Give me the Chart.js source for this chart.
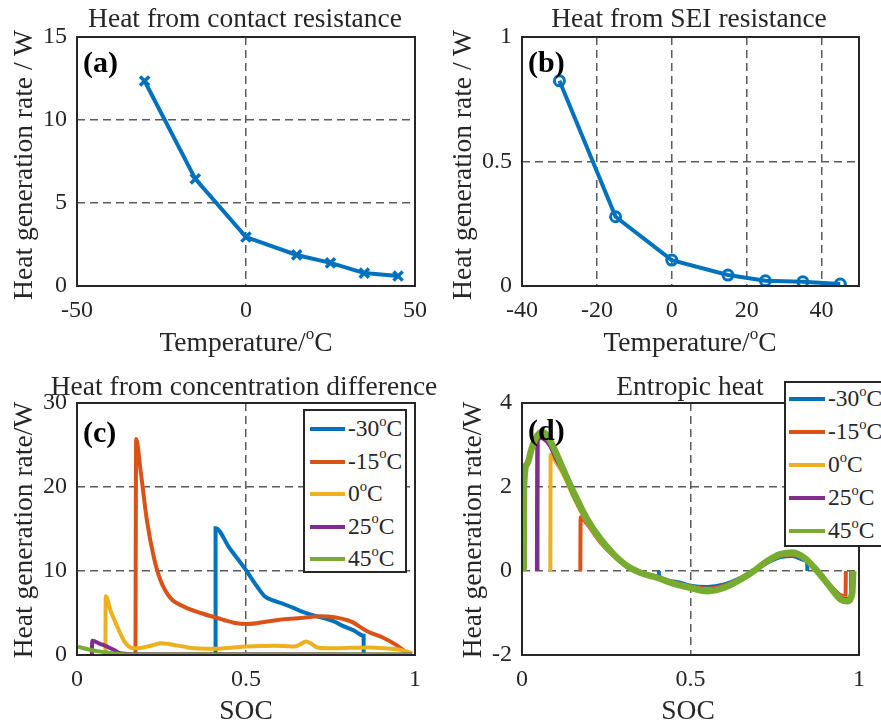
<!DOCTYPE html>
<html>
<head>
<meta charset="utf-8">
<script src="https://cdn.jsdelivr.net/npm/chart.js@4.4.0/dist/chart.umd.min.js"></script>
<style>
body { margin: 0; background: #fff; width: 881px; height: 727px; position: relative; overflow: hidden;
       font-family: "Liberation Serif", "Times New Roman", serif; color: #262626; }
canvas { position: absolute; }
.t { position: absolute; white-space: nowrap; font-size: 27.5px; line-height: 1; transform: translate(-50%, -50%); }
.yl { transform: translate(-50%, -50%) rotate(-90deg); }
.tag { position: absolute; white-space: nowrap; font-weight: bold; font-size: 30px; line-height: 1; color: #000; transform: translate(0, -50%); }
sup { font-size: 0.62em; vertical-align: 0; position: relative; top: -0.7em; }
.leg { position: absolute; border: 2px solid #262626; background: #fff; box-sizing: border-box; }
.row { position: absolute; left: 0; height: 0; }
.row i { position: absolute; height: 4px; margin-top: -2px; }
.row span { position: absolute; white-space: nowrap; font-size: 23.5px; line-height: 1; transform: translate(0, -50%); }
</style>
</head>
<body>
<canvas id="cA" width="440" height="330" style="left:0;top:0"></canvas>
<canvas id="cB" width="441" height="330" style="left:440px;top:0"></canvas>
<canvas id="cC" width="440" height="357" style="left:0;top:370px"></canvas>
<canvas id="cD" width="441" height="357" style="left:440px;top:370px"></canvas>

<div class="t" style="left:245px;top:18px">Heat from contact resistance</div>
<div class="t" style="left:689px;top:18px">Heat from SEI resistance</div>
<div class="t" style="left:244px;top:386px">Heat from concentration difference</div>
<div class="t" style="left:690px;top:386px">Entropic heat</div>

<div class="t yl" style="left:23px;top:165px">Heat generation rate / W</div>
<div class="t yl" style="left:462px;top:165px">Heat generation rate / W</div>
<div class="t yl" style="left:23px;top:530px">Heat generation rate/W</div>
<div class="t yl" style="left:472px;top:530px">Heat generation rate/W</div>

<div class="t" style="left:246px;top:342px">Temperature/<sup>o</sup>C</div>
<div class="t" style="left:690px;top:342px">Temperature/<sup>o</sup>C</div>
<div class="t" style="left:246px;top:710px">SOC</div>
<div class="t" style="left:688px;top:710px">SOC</div>

<div class="tag" style="left:83px;top:62px">(a)</div>
<div class="tag" style="left:528px;top:62px">(b)</div>
<div class="tag" style="left:83px;top:432px">(c)</div>
<div class="tag" style="left:528px;top:430px">(d)</div>

<div class="leg" id="legC" style="left:303px;top:409px;width:104px;height:164px"></div>
<div class="leg" id="legD" style="left:784px;top:381px;width:120px;height:166px"></div>

<script>
// temperatures for panels (a) and (b)
const temps = [-30, -15, 0, 15, 25, 35, 45];
const contactHeat = [12.35, 6.45, 2.95, 1.87, 1.39, 0.78, 0.6];
const seiHeat = [0.824, 0.278, 0.104, 0.044, 0.021, 0.017, 0.008];

// legend / series labels for panels (c) and (d)
const seriesTemps = ['-30', '-15', '0', '25', '45'];
const seriesColors = ['#0072BD', '#D95319', '#EDB120', '#7E2F8E', '#77AC30'];

// tick labels
const xTicksA = [-50, 0, 50];
const yTicksA = [0, 5, 10, 15];
const xTicksB = [-40, -20, 0, 20, 40];
const yTicksB = [0, 0.5, 1];
const socTicks = [0, 0.5, 1];
const yTicksC = [0, 10, 20, 30];
const yTicksD = [-2, 0, 2, 4];

// (c) heat from concentration difference, SOC / W
const concSoc30 = [0.41, 0.41, 0.45, 0.5, 0.53, 0.555, 0.58, 0.61, 0.64, 0.67, 0.70, 0.73, 0.76, 0.79, 0.82, 0.848, 0.848];
const concQ30 = [0, 15.1, 12.8, 10.1, 8.3, 7.0, 6.5, 6.1, 5.6, 5.1, 4.7, 4.4, 4.0, 3.4, 2.9, 2.3, 0];
const concSoc15 = [0.173, 0.175, 0.188, 0.207, 0.227, 0.247, 0.277, 0.316, 0.366, 0.415, 0.464, 0.504, 0.563, 0.613, 0.662, 0.72, 0.761, 0.81, 0.86, 0.909, 0.944, 0.975, 0.985];
const concQ15 = [0, 25.7, 22, 16, 11.7, 8.9, 6.75, 5.76, 5.0, 4.4, 3.85, 3.7, 4.0, 4.25, 4.4, 4.6, 4.5, 4.0, 2.8, 2.0, 1.2, 0.3, 0];
const concSoc0 = [0.084, 0.085, 0.10, 0.119, 0.135, 0.148, 0.168, 0.19, 0.207, 0.227, 0.247, 0.267, 0.287, 0.316, 0.346, 0.38, 0.415, 0.464, 0.5, 0.543, 0.58, 0.613, 0.642, 0.662, 0.677, 0.695, 0.711, 0.74, 0.761, 0.81, 0.86, 0.91, 0.958, 0.993];
const concQ0 = [0, 7.0, 5.2, 3.4, 2.0, 1.2, 0.8, 0.85, 1.0, 1.2, 1.4, 1.35, 1.2, 1.0, 0.8, 0.75, 0.75, 0.9, 1.0, 1.07, 1.1, 1.07, 1.0, 1.3, 1.6, 1.3, 0.9, 0.8, 0.8, 0.85, 0.9, 0.8, 0.6, 0.2];
const concSoc25 = [0.044, 0.045, 0.07, 0.089, 0.11, 0.128, 0.16, 0.3, 0.5, 0.7, 0.9, 0.99];
const concQ25 = [0, 1.7, 1.3, 1.0, 0.6, 0.2, 0.1, 0.1, 0.08, 0.08, 0.07, 0.05];
const concSoc45 = [0.003, 0.02, 0.04, 0.07, 0.1, 0.13, 0.2, 0.4, 0.6, 0.8, 0.99];
const concQ45 = [1.0, 0.8, 0.6, 0.4, 0.25, 0.1, 0.05, 0.05, 0.05, 0.05, 0.05];

// (d) entropic heat, SOC / W
const entSoc30 = [0.406, 0.407, 0.45, 0.5, 0.55, 0.6, 0.649, 0.688, 0.728, 0.767, 0.802, 0.837, 0.846, 0.847];
const entQ30 = [0, -0.13, -0.25, -0.35, -0.38, -0.32, -0.16, 0.01, 0.2, 0.33, 0.36, 0.26, 0.2, 0];
const entSoc15 = [0.173, 0.174, 0.193, 0.233, 0.272, 0.312, 0.351, 0.401, 0.45, 0.5, 0.55, 0.6, 0.649, 0.688, 0.728, 0.767, 0.802, 0.837, 0.876, 0.916, 0.946, 0.960, 0.961];
const entQ15 = [0, 1.28, 1.12, 0.68, 0.36, 0.1, -0.03, -0.14, -0.27, -0.37, -0.42, -0.35, -0.17, 0.01, 0.22, 0.36, 0.39, 0.29, 0, -0.35, -0.58, -0.6, 0];
const entSoc0 = [0.084, 0.085, 0.1, 0.124, 0.153, 0.193, 0.233, 0.272, 0.312, 0.351, 0.401, 0.45, 0.5, 0.55, 0.6, 0.649, 0.688, 0.728, 0.767, 0.802, 0.837, 0.876, 0.916, 0.946, 0.965, 0.977, 0.978];
const entQ0 = [0, 2.77, 2.6, 2.28, 1.76, 1.16, 0.71, 0.37, 0.11, -0.03, -0.15, -0.28, -0.37, -0.44, -0.37, -0.18, 0, 0.22, 0.37, 0.4, 0.3, 0, -0.37, -0.62, -0.66, -0.55, 0];
const entSoc25 = [0.045, 0.046, 0.055, 0.07, 0.084, 0.1, 0.124, 0.153, 0.193, 0.233, 0.272, 0.312, 0.351, 0.401, 0.45, 0.5, 0.55, 0.6, 0.649, 0.688, 0.728, 0.767, 0.802, 0.837, 0.876, 0.916, 0.946, 0.965, 0.977, 0.978];
const entQ25 = [0, 3.1, 3.17, 3.12, 2.98, 2.7, 2.35, 1.82, 1.2, 0.74, 0.39, 0.12, -0.03, -0.15, -0.28, -0.38, -0.46, -0.38, -0.19, 0, 0.23, 0.38, 0.42, 0.31, 0, -0.38, -0.64, -0.68, -0.6, 0];
const entSoc45 = [0.005, 0.006, 0.015, 0.03, 0.045, 0.06, 0.075, 0.09, 0.11, 0.13, 0.153, 0.193, 0.233, 0.272, 0.312, 0.351, 0.401, 0.45, 0.5, 0.55, 0.6, 0.649, 0.688, 0.728, 0.767, 0.802, 0.837, 0.876, 0.916, 0.946, 0.965, 0.98, 0.983];
const entQ45 = [0, 2.0, 2.55, 2.95, 3.22, 3.31, 3.22, 3.0, 2.65, 2.28, 1.88, 1.24, 0.76, 0.4, 0.12, -0.04, -0.16, -0.3, -0.4, -0.48, -0.4, -0.2, 0, 0.24, 0.4, 0.44, 0.32, 0, -0.4, -0.68, -0.72, -0.52, 0];

const FONT = 'Liberation Serif';
const TXT = '#262626';
const GRID = '#5a5a5a';

const pts = (xs, ys) => xs.map((x, i) => ({ x: x, y: ys[i] }));

// axes box like MATLAB "box on"
const framePlugin = {
    id: 'frame',
    afterDraw(chart) {
        const { ctx, chartArea: a } = chart;
        ctx.save();
        ctx.strokeStyle = TXT;
        ctx.lineWidth = 2;
        ctx.strokeRect(a.left, a.top, a.right - a.left, a.bottom - a.top);
        ctx.restore();
    }
};

function axis(min, max, ticks, fit, horizontal) {
    return {
        type: 'linear',
        min: min,
        max: max,
        afterBuildTicks: s => { s.ticks = ticks.map(v => ({ value: v })); },
        afterFit: s => { if (horizontal) s.height = fit; else s.width = fit; },
        grid: {
            drawTicks: false,
            lineWidth: 1.5,
            color: c => (c.tick && (c.tick.value === min || c.tick.value === max)) ? 'rgba(0,0,0,0)' : GRID
        },
        border: { display: false, dash: [8, 5] },
        ticks: {
            padding: 10,
            color: TXT,
            font: { family: FONT, size: 24 },
            callback: v => String(v)
        }
    };
}

function panel(id, datasets, xs, ys, pad, yW, xH) {
    new Chart(document.getElementById(id).getContext('2d'), {
        type: 'line',
        data: { datasets: datasets },
        options: {
            responsive: false,
            animation: false,
            devicePixelRatio: 1,
            layout: { padding: pad },
            plugins: { legend: { display: false }, tooltip: { enabled: false } },
            scales: {
                x: axis(xs[0], xs[1], xs[2], xH, true),
                y: axis(ys[0], ys[1], ys[2], yW, false)
            }
        },
        plugins: [framePlugin]
    });
}

function tempSeries(values, style) {
    return {
        data: pts(temps, values),
        borderColor: seriesColors[0],
        backgroundColor: 'rgba(0,0,0,0)',
        borderWidth: 4,
        pointStyle: style,
        pointRadius: style === 'circle' ? 5 : 6.5,
        pointBorderWidth: style === 'circle' ? 3 : 3.5,
        pointBorderColor: seriesColors[0],
        tension: 0
    };
}

function socSeries(xs, ys, i, width) {
    return {
        label: seriesTemps[i],
        data: pts(xs, ys),
        borderColor: seriesColors[i],
        borderWidth: width,
        pointRadius: 0,
        cubicInterpolationMode: 'monotone',
        order: 4 - i
    };
}

panel('cA', [tempSeries(contactHeat, 'crossRot')],
    [-50, 50, xTicksA], [0, 15, yTicksA], { left: 0, top: 37, right: 25, bottom: 0 }, 77, 44);
panel('cB', [tempSeries(seiHeat, 'circle')],
    [-40, 50, xTicksB], [0, 1, yTicksB], { left: 0, top: 37, right: 22, bottom: 0 }, 82, 44);

panel('cC', [
    socSeries(concSoc30, concQ30, 0, 4),
    socSeries(concSoc15, concQ15, 1, 4),
    socSeries(concSoc0, concQ0, 2, 4),
    socSeries(concSoc25, concQ25, 3, 4),
    socSeries(concSoc45, concQ45, 4, 4)
], [0, 1, socTicks], [0, 30, yTicksC], { left: 0, top: 33, right: 25, bottom: 0 }, 77, 72);

panel('cD', [
    socSeries(entSoc30, entQ30, 0, 4),
    socSeries(entSoc15, entQ15, 1, 4),
    socSeries(entSoc0, entQ0, 2, 4),
    socSeries(entSoc25, entQ25, 3, 4.5),
    socSeries(entSoc45, entQ45, 4, 6.5)
], [0, 1, socTicks], [-2, 4, yTicksD], { left: 0, top: 33, right: 22, bottom: 0 }, 82, 72);

// legends built from the series labels and colours
function buildLegend(id, firstRow, step, lineLeft, lineW, textLeft) {
    const box = document.getElementById(id);
    seriesTemps.forEach((t, i) => {
        const row = document.createElement('div');
        row.className = 'row';
        row.style.top = (firstRow + step * i) + 'px';
        row.innerHTML = '<i style="left:' + lineLeft + 'px;width:' + lineW + 'px;background:' + seriesColors[i] +
            '"></i><span style="left:' + textLeft + 'px">' + t + '<sup>o</sup>C</span>';
        box.appendChild(row);
    });
}
buildLegend('legC', 18, 32.5, 5, 35, 43);
buildLegend('legD', 16, 33, 3, 36, 42);
</script>
</body>
</html>
